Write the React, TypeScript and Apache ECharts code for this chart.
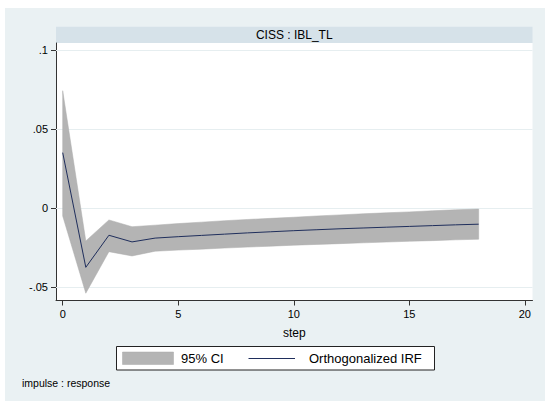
import React, { useEffect, useRef } from "react";
import * as echarts from "echarts";

// Impulse-response of IBL_TL to a CISS shock, with its 95% band
const steps = [0, 1, 2, 3, 4, 5, 6, 7, 8, 9, 10, 11, 12, 13, 14, 15, 16, 17, 18];
const irf = [
  0.0349, -0.0377, -0.0174, -0.0216, -0.0192, -0.0183, -0.0175, -0.0167, -0.0159, -0.0152,
  -0.0145, -0.0139, -0.0133, -0.0128, -0.0123, -0.0118, -0.0113, -0.0108, -0.0104,
];
const ciUpper = [
  0.0741, -0.021, -0.0077, -0.012, -0.011, -0.01, -0.0091, -0.0082, -0.0074, -0.0067,
  -0.006, -0.0052, -0.0045, -0.0038, -0.0032, -0.0026, -0.0019, -0.0013, -0.0008,
];
const ciLower = [
  -0.0052, -0.0541, -0.0278, -0.0305, -0.0275, -0.0268, -0.0262, -0.0255, -0.0249, -0.0243,
  -0.0237, -0.0232, -0.0227, -0.0222, -0.0217, -0.0212, -0.0208, -0.0203, -0.0199,
];
const xTicks = [0, 5, 10, 15, 20];
const yTicks = [-0.05, 0, 0.05, 0.1];
const panelTitle = "CISS : IBL_TL";
const xName = "step";
const ciLabel = "95% CI";
const irfLabel = "Orthogonalized IRF";
const note = "impulse : response";

const FONT = '"Liberation Sans", Helvetica, Arial, sans-serif';
const BAND = "#b4b4b4";
const NAVY = "#1f2e5c";
const AXIS = "#333333";

// Stata-style numbers: drop the leading zero (".05", "-.05")
const fmt = (v: number) => (v === 0 ? "0" : String(v).replace("0.", "."));

export default function App() {
  const ref = useRef<HTMLDivElement>(null);

  useEffect(() => {
    if (!ref.current) return;
    const chart = echarts.init(ref.current, undefined, { renderer: "svg" });

    const plotLeft = 56;
    const plotTop = 43;
    const plotRight = 532.5;
    const plotBottom = 300.5;

    chart.setOption({
      animation: false,
      textStyle: { fontFamily: FONT },
      grid: {
        left: plotLeft,
        top: plotTop,
        right: 545 - plotRight,
        bottom: 401 - plotBottom,
        show: true,
        backgroundColor: "#ffffff",
        borderWidth: 0,
      },
      xAxis: {
        type: "value",
        min: -0.29,
        max: 20.33,
        name: xName,
        nameLocation: "middle",
        nameGap: 26,
        nameTextStyle: { fontSize: 12, color: "#000", fontFamily: FONT },
        axisLine: { show: true, onZero: false, lineStyle: { color: AXIS, width: 1 } },
        axisTick: { show: true, length: 5, customValues: xTicks, lineStyle: { color: AXIS } },
        axisLabel: {
          customValues: xTicks,
          fontSize: 11,
          color: "#000",
          margin: 8,
          fontFamily: FONT,
        },
        splitLine: { show: false },
      },
      yAxis: {
        type: "value",
        min: -0.0587,
        max: 0.1043,
        axisLine: { show: true, onZero: false, lineStyle: { color: AXIS, width: 1 } },
        axisTick: { show: true, length: 5, customValues: yTicks, lineStyle: { color: AXIS } },
        axisLabel: {
          customValues: yTicks,
          fontSize: 11,
          color: "#000",
          margin: 8,
          fontFamily: FONT,
          formatter: (v: number) => fmt(v),
        },
        splitLine: { show: false },
      },
      series: [
        {
          // horizontal reference lines at the y ticks, kept beneath the band
          type: "line",
          data: [],
          silent: true,
          z: 1,
          markLine: {
            silent: true,
            z: 1,
            symbol: ["none", "none"],
            label: { show: false },
            lineStyle: { color: "#e6eef0", width: 1, type: "solid" },
            data: yTicks.map((v) => ({ yAxis: v })),
          },
        },
        {
          // confidence band as a filled polygon: upper edge then lower edge reversed
          type: "custom",
          z: 2,
          silent: true,
          data: [[steps[0], irf[0]]],
          renderItem: (_params: any, api: any) => {
            const pts: number[][] = [];
            for (let i = 0; i < steps.length; i++) pts.push(api.coord([steps[i], ciUpper[i]]));
            for (let i = steps.length - 1; i >= 0; i--) pts.push(api.coord([steps[i], ciLower[i]]));
            return {
              type: "polygon",
              shape: { points: pts },
              style: { fill: BAND, stroke: "#adadad", lineWidth: 0.5 },
            };
          },
        },
        {
          type: "line",
          z: 3,
          silent: true,
          symbol: "none",
          lineStyle: { color: NAVY, width: 1 },
          data: steps.map((s, i) => [s, irf[i]]),
        },
      ],
      graphic: [
        {
          type: "rect",
          z: -5,
          silent: true,
          shape: { x: 5, y: 8, width: 540, height: 393 },
          style: { fill: "#eaf1f3" },
        },
        {
          type: "rect",
          silent: true,
          shape: { x: plotLeft, y: 26.7, width: plotRight - plotLeft, height: plotTop - 26.7 },
          style: { fill: "#d6e2e9" },
        },
        {
          type: "text",
          silent: true,
          x: (plotLeft + plotRight) / 2,
          y: 35,
          style: {
            text: panelTitle,
            fontSize: 12,
            fontFamily: FONT,
            fill: "#000",
            align: "center",
            verticalAlign: "middle",
          },
        },
        {
          type: "rect",
          silent: true,
          shape: { x: 116.5, y: 346.5, width: 318, height: 23.5 },
          style: { fill: "#ffffff", stroke: "#222", lineWidth: 1 },
        },
        {
          type: "rect",
          silent: true,
          shape: { x: 122.5, y: 352, width: 51, height: 12.5 },
          style: { fill: BAND, stroke: "#a8a8a8", lineWidth: 0.5 },
        },
        {
          type: "text",
          silent: true,
          x: 181,
          y: 358.5,
          style: {
            text: ciLabel,
            fontSize: 13,
            fontFamily: FONT,
            fill: "#000",
            align: "left",
            verticalAlign: "middle",
          },
        },
        {
          type: "line",
          silent: true,
          shape: { x1: 248.5, y1: 358.5, x2: 295, y2: 358.5 },
          style: { stroke: NAVY, lineWidth: 1 },
        },
        {
          type: "text",
          silent: true,
          x: 309,
          y: 358.5,
          style: {
            text: irfLabel,
            fontSize: 13,
            fontFamily: FONT,
            fill: "#000",
            align: "left",
            verticalAlign: "middle",
          },
        },
        {
          type: "text",
          silent: true,
          x: 22,
          y: 383,
          style: {
            text: note,
            fontSize: 10.5,
            fontFamily: FONT,
            fill: "#000",
            align: "left",
            verticalAlign: "middle",
          },
        },
      ],
    });

    return () => chart.dispose();
  }, []);

  return (
    <div
      ref={ref}
      style={{ position: "absolute", left: 0, top: 0, width: 545, height: 401 }}
    />
  );
}
